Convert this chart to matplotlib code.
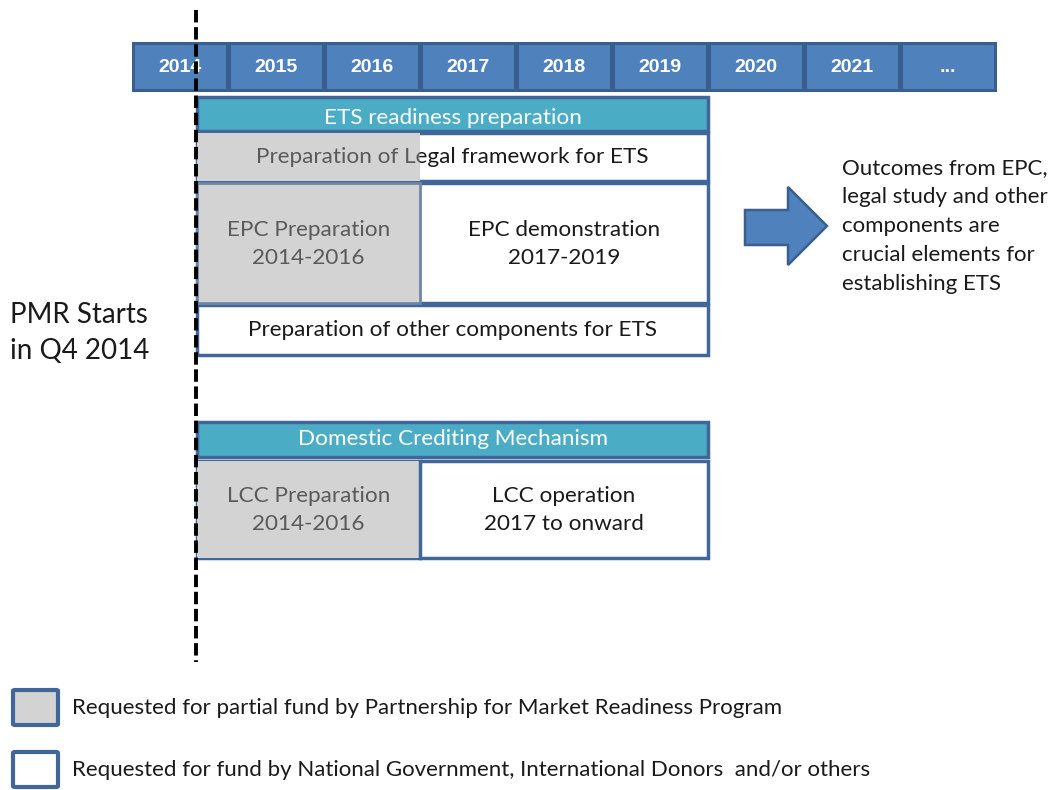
import matplotlib.pyplot as plt
from matplotlib.patches import Rectangle, FancyBboxPatch, Polygon

# --- data ---
years = ["2014", "2015", "2016", "2017", "2018", "2019", "2020", "2021", "..."]
pmr_start = 2014.68   # Q4 2014
split_year = 2017
end_year = 2020

ets_header = "ETS readiness preparation"
legal_label = "Preparation of Legal framework for ETS"
epc_prep = "EPC Preparation\n2014-2016"
epc_demo = "EPC demonstration\n2017-2019"
other_label = "Preparation of other components for ETS"
dcm_header = "Domestic Crediting Mechanism"
lcc_prep = "LCC Preparation\n2014-2016"
lcc_oper = "LCC operation\n2017 to onward"
outcome_text = ("Outcomes from EPC,\nlegal study and other\ncomponents are\n"
                "crucial elements for\nestablishing ETS")
pmr_text = "PMR Starts\nin Q4 2014"
legend_labels = ["Requested for partial fund by Partnership for Market Readiness Program",
                 "Requested for fund by National Government, International Donors  and/or others"]

# --- colours ---
year_fill = "#4F81BD"
year_edge = "#3A5F8E"
teal = "#4BACC6"
edge = "#41679A"
gray = "#D3D3D3"
gray_text = "#5A5A5A"
black_text = "#1A1A1A"
FONT = "Lato"

fig = plt.figure(figsize=(10.55, 7.9), dpi=100)
ax = fig.add_axes([0, 0, 1, 1])
px_per_year = 96
ax.set_xlim(2014 - 132 / px_per_year, 2014 + (1055 - 132) / px_per_year)
ax.set_ylim(790, 0)
ax.axis("off")


def px(x):
    # pixel column -> year units
    return 2014 + (x - 132) / px_per_year


# year header
for i, y in enumerate(years):
    ax.add_patch(Rectangle((2014 + i + 0.01, 43), 0.98, 47, facecolor=year_fill,
                           edgecolor=year_edge, lw=2.2))
    ax.text(2014 + i + 0.5, 68, y, ha="center", va="center", color="white",
            fontsize=14, fontweight="bold", family="Liberation Sans")


def box(x0, x1, y0, y1, fc="white", ec=edge, lw=2.5, z=2):
    r = Rectangle((x0, y0), x1 - x0, y1 - y0, facecolor=fc, edgecolor=ec, lw=lw, zorder=z)
    ax.add_patch(r)
    return r


def label(x, y, s, color=black_text, size=16.2):
    return ax.text(x, y + 2, s, ha="center", va="center", color=color, fontsize=size,
                   family=FONT, linespacing=1.45, zorder=5)


mid = (pmr_start + end_year) / 2
left_mid = (pmr_start + split_year) / 2
right_mid = (split_year + end_year) / 2

# ETS block
box(pmr_start, end_year, 97, 131, fc=teal)
label(mid, 116, ets_header, color="white")

box(pmr_start, end_year, 133, 181)
g = Rectangle((pmr_start, 133), split_year - pmr_start, 48, facecolor=gray,
              edgecolor="none", zorder=3)
ax.add_patch(g)
w = Rectangle((split_year, 133), end_year - split_year, 48, facecolor="none",
              edgecolor="none", zorder=3)
ax.add_patch(w)
t1 = label(mid, 155, legal_label, color=gray_text)
t1.set_clip_on(True)
t1.set_clip_path(g)
t2 = label(mid, 155, legal_label, color=black_text)
t2.set_clip_on(True)
t2.set_clip_path(w)

box(pmr_start, end_year, 183, 303)
box(pmr_start, split_year, 183, 303, fc=gray, ec="#6E86A6", lw=2, z=3)
label(left_mid, 242, epc_prep, color=gray_text)
label(right_mid, 242, epc_demo)

box(pmr_start, end_year, 305, 355)
label(mid, 328, other_label)

# Domestic crediting mechanism block
box(pmr_start, end_year, 422, 457, fc=teal)
label(mid, 437, dcm_header, color="white")
box(pmr_start, end_year, 461, 558)
box(pmr_start, split_year, 461, 558, fc=gray, ec="none", z=3)
ax.plot([split_year, split_year], [461, 558], color=edge, lw=2.5, zorder=4)
label(left_mid, 508, lcc_prep, color=gray_text)
label(right_mid, 508, lcc_oper)

# PMR start line
ax.plot([pmr_start - 0.01] * 2, [10, 662], color="black", lw=2.8,
        linestyle=(0, (3.2, 1.2)), zorder=6)
ax.text(px(10), 333, pmr_text, ha="left", va="center", fontsize=20,
        family=FONT, color=black_text, linespacing=1.5)

# arrow and outcome text
arrow = [(745, 210), (788, 210), (788, 187), (827, 226), (788, 265), (788, 245), (745, 245)]
ax.add_patch(Polygon([(px(x), y) for x, y in arrow], closed=True, facecolor=year_fill,
                     edgecolor=year_edge, lw=1.8))
ax.text(px(842), 226, outcome_text, ha="left", va="center", fontsize=16,
        family=FONT, color=black_text, linespacing=1.56)

# legend
for (y0, fc), s in zip([(690, gray), (752, "white")], legend_labels):
    ax.add_patch(FancyBboxPatch((px(13), y0), 45 / px_per_year, 35,
                                boxstyle="round,pad=0,rounding_size=0.02",
                                mutation_aspect=60, facecolor=fc, edgecolor=edge, lw=3))
    ax.text(px(72), y0 + 18, s, ha="left", va="center", fontsize=16, family=FONT,
            color=black_text)

fig.savefig("out.png", dpi=100)
